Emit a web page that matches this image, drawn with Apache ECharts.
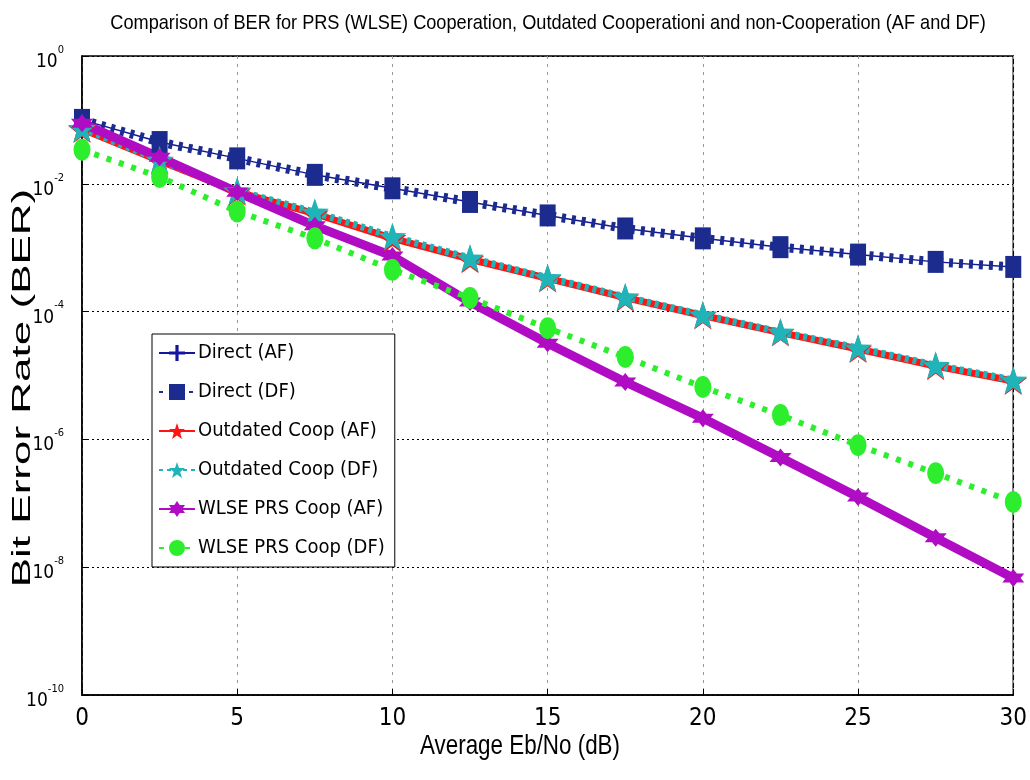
<!DOCTYPE html>
<html>
<head>
<meta charset="utf-8">
<script src="https://cdn.jsdelivr.net/npm/echarts@6/dist/echarts.min.js"></script>
<style>
  html, body { margin: 0; padding: 0; background: #fff; }
  #main { width: 1030px; height: 780px; }
</style>
</head>
<body>
<div id="main"></div>
<script>
// Eb/No points (dB)
const snr = [0, 2.5, 5, 7.5, 10, 12.5, 15, 17.5, 20, 22.5, 25, 27.5, 30];

// BER values
const directAF = [0.1, 0.045, 0.025, 0.0138, 0.0085, 0.0052, 0.0032, 0.002, 0.0014, 0.00102, 0.00078, 0.0006, 0.0005];
const directDF = [0.1, 0.045, 0.025, 0.0138, 0.0085, 0.0052, 0.0032, 0.002, 0.0014, 0.00102, 0.00078, 0.0006, 0.0005];
const outdatedAF = [0.072, 0.023, 0.0075, 0.0034, 0.0014, 0.00066, 0.00033, 0.000165, 8.7e-5, 4.7e-5, 2.6e-5, 1.4e-5, 8.2e-6];
const outdatedDF = [0.074, 0.0235, 0.0078, 0.0036, 0.0015, 0.00069, 0.00034, 0.00017, 8.9e-5, 4.8e-5, 2.7e-5, 1.45e-5, 8.5e-6];
const wlseAF = [0.089, 0.026, 0.0074, 0.0022, 0.00074, 1.41e-4, 3.2e-5, 7.9e-6, 2.15e-6, 5.2e-7, 1.25e-7, 2.9e-8, 6.8e-9];
const wlseDF = [0.034, 0.0128, 0.0037, 0.0014, 0.00045, 0.000163, 5.5e-5, 1.95e-5, 6.6e-6, 2.4e-6, 8.1e-7, 2.95e-7, 1.05e-7];

const seriesNames = ["Direct (AF)", "Direct (DF)", "Outdated Coop (AF)", "Outdated Coop (DF)", "WLSE PRS Coop (AF)", "WLSE PRS Coop (DF)"];
const xTicks = [0, 5, 10, 15, 20, 25, 30];

const narrow = "'DejaVu Sans Condensed', 'Liberation Sans', sans-serif";
const arial = "'Liberation Sans', Arial, sans-serif";

// marker shapes
const plus = "path://M4,0H6V4H10V6H6V10H4V6H0V4H4Z";
const star5 = "path://M10,0L12.35,6.76L19.51,6.91L13.8,11.24L15.88,18.09L10,14L4.12,18.09L6.2,11.24L0.49,6.91L7.65,6.76Z";
const star6 = "path://M10,0L12.89,5L18.66,5L15.77,10L18.66,15L12.89,15L10,20L7.11,15L1.34,15L4.23,10L1.34,5L7.11,5Z";
const oval = "path://M10,0A10,10 0 1,1 10,20A10,10 0 1,1 10,0Z";

function pts(arr) {
  return snr.map((x, i) => [x, arr[i]]);
}

// squeezed text, the source picture is narrower than it is tall
function squeezed(text, x, y, size, sx) {
  return {
    type: "group", x: x, y: y, scaleX: sx, scaleY: 1,
    children: [{
      type: "text", x: 0, y: 0,
      style: {
        text: text, font: size + "px " + arial, fill: "#000",
        textAlign: "center", textVerticalAlign: "middle"
      }
    }]
  };
}

const chart = echarts.init(document.getElementById("main"));

chart.setOption({
  backgroundColor: "#fff",
  animation: false,
  grid: {
    left: 82, right: 15, top: 56, bottom: 85,
    show: true, borderColor: "#000", borderWidth: 1.5
  },
  graphic: [
    squeezed("Comparison of BER for PRS (WLSE) Cooperation, Outdated Cooperationi and non-Cooperation (AF and DF)", 548, 23, 21, 0.865),
    {
      // y name: rotate the text, squeeze across the line
      type: "text", x: 23, y: 388, rotation: Math.PI / 2,
      scaleX: 1, scaleY: 0.6,
      style: {
        text: "Bit Error Rate (BER)", font: "44px " + arial, fill: "#000",
        align: "center", verticalAlign: "middle"
      }
    },
    squeezed("Average Eb/No (dB)", 520, 746, 28, 0.8)
  ],
  legend: {
    orient: "vertical",
    left: 152, top: 334,
    data: seriesNames,
    itemWidth: 36, itemHeight: 20, itemGap: 19,
    padding: [9, 10, 9, 6],
    backgroundColor: "#fff",
    borderColor: "#000", borderWidth: 1,
    textStyle: { fontFamily: narrow, fontSize: 20, color: "#000", padding: [0, 0, 0, -2] }
  },
  xAxis: {
    type: "value", min: 0, max: 30, interval: 5,
    axisLine: { lineStyle: { color: "#000", width: 1.5 } },
    axisTick: { inside: true, length: 6, lineStyle: { color: "#000" } },
    axisLabel: {
      margin: 12, fontFamily: narrow, fontSize: 24, color: "#000",
      formatter: v => (xTicks.indexOf(v) >= 0 ? String(v) : "")
    },
    splitLine: { show: true, lineStyle: { color: "#999", type: [3, 5], width: 1 } }
  },
  yAxis: {
    type: "log", logBase: 100, min: 1e-10, max: 1,
    axisLine: { lineStyle: { color: "#000", width: 1.5 } },
    axisTick: { inside: true, length: 6, lineStyle: { color: "#000" } },
    axisLabel: {
      margin: 18, color: "#000",
      formatter: v => "{b|10}{e|" + Math.round(Math.log10(v)) + "}",
      rich: {
        b: { fontFamily: narrow, fontSize: 19, color: "#000", padding: [12, 0, 0, 0] },
        e: { fontFamily: narrow, fontSize: 11, color: "#000", padding: [0, 0, 12, 0] }
      }
    },
    splitLine: { show: true, lineStyle: { color: "#000", type: [2, 3], width: 1 } }
  },
  series: [
    {
      name: seriesNames[0], type: "line", data: pts(directAF),
      symbol: plus, symbolSize: 10,
      itemStyle: { color: "#1414a0" },
      lineStyle: { color: "#1414a0", width: 1.5 }
    },
    {
      name: seriesNames[1], type: "line", data: pts(directDF),
      symbol: "rect", symbolSize: [16, 22],
      itemStyle: { color: "#1c2b8e" },
      lineStyle: { color: "#1c2b8e", width: 9, type: [4, 6] }
    },
    {
      name: seriesNames[2], type: "line", data: pts(outdatedAF),
      symbol: star5, symbolSize: 28,
      itemStyle: { color: "#ff1414" },
      lineStyle: { color: "#ff1414", width: 7 }
    },
    {
      name: seriesNames[3], type: "line", data: pts(outdatedDF),
      symbol: star5, symbolSize: 28,
      itemStyle: { color: "#20b4b8" },
      lineStyle: { color: "#20b4b8", width: 7, type: [4, 4] }
    },
    {
      name: seriesNames[4], type: "line", data: pts(wlseAF),
      symbol: star6, symbolSize: [22, 18],
      itemStyle: { color: "#b00cc4" },
      lineStyle: { color: "#b00cc4", width: 9 }
    },
    {
      name: seriesNames[5], type: "line", data: pts(wlseDF),
      symbol: oval, symbolSize: [17, 22],
      itemStyle: { color: "#2cee2c" },
      lineStyle: { color: "#2cee2c", width: 6, type: [5, 8] }
    }
  ]
});
</script>
</body>
</html>
